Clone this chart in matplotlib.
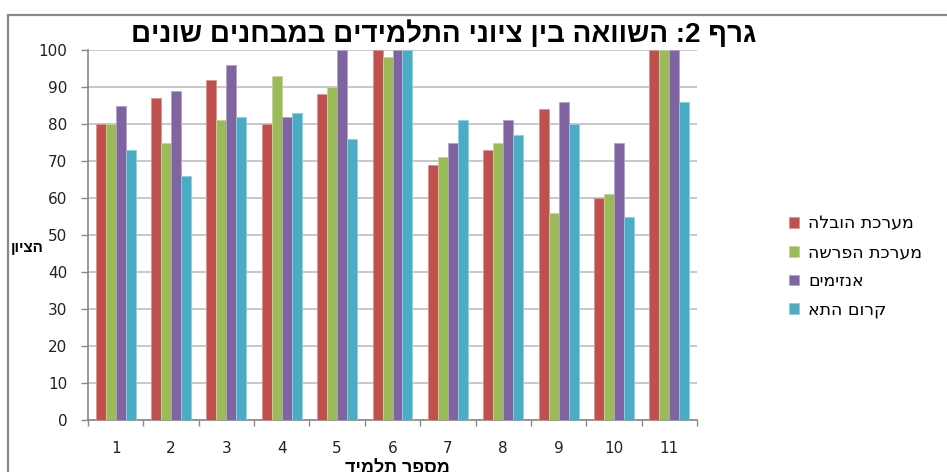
import matplotlib
matplotlib.use("Agg")
import matplotlib.pyplot as plt
import numpy as np
from matplotlib.patches import Rectangle

def vis(s):
    # Hebrew visual order for left-to-right rendering
    return s[::-1]

students = [1, 2, 3, 4, 5, 6, 7, 8, 9, 10, 11]
hovala = [80, 87, 92, 80, 88, 100, 69, 73, 84, 60, 100]
hafrasha = [80, 75, 81, 93, 90, 98, 71, 75, 56, 61, 100]
enzymim = [85, 89, 96, 82, 100, 100, 75, 81, 86, 75, 100]
krum = [73, 66, 82, 83, 76, 100, 81, 77, 80, 55, 86]

series_names = ["מערכת הובלה", "מערכת הפרשה", "אנזימים", "קרום התא"]
colors = ["#C0504D", "#9BBB59", "#8064A2", "#4BACC6"]
edge_colors = ["#D99694", "#C3D69B", "#B3A2C7", "#93CDDD"]

title = "גרף 2: השוואה בין ציוני התלמידים במבחנים שונים"
ylabel = "הציון"
xlabel = "מספר תלמיד"

heb = ['Liberation Sans', 'DejaVu Sans']
plt.rcParams['font.family'] = ['DejaVu Sans']

fig = plt.figure(figsize=(9.47, 4.72), dpi=100)
W, H = 947, 472
ax = fig.add_axes([88 / W, 1 - 420 / H, 609 / W, 370 / H])

x = np.arange(len(students))
bw = 0.18
all_series = [hovala, hafrasha, enzymim, krum]
for i, (vals, c, ec, name) in enumerate(zip(all_series, colors, edge_colors, series_names)):
    ax.bar(x + (i - 1.5) * bw, vals, width=bw, color=c, edgecolor=ec,
           linewidth=0.6, label=vis(name), zorder=3)

ax.set_xlim(-0.5, len(students) - 0.5)
ax.set_ylim(0, 100)
ax.set_yticks(np.arange(0, 101, 10))
ax.yaxis.grid(True, color="#BFBFBF", linewidth=1.2, zorder=0)
ax.set_axisbelow(True)

ax.set_xticks(x)
ax.set_xticklabels([str(s) for s in students])
ax.set_xticks(np.arange(-0.5, len(students), 1.0), minor=True)
ax.tick_params(axis='x', which='major', length=0, pad=15, labelsize=11, colors='#222222')
ax.tick_params(axis='x', which='minor', length=4.3, color='#888888', width=1)
ax.tick_params(axis='y', length=5, color='#888888', width=1, pad=10, labelsize=11, labelcolor='#222222')

for s in ['top', 'right']:
    ax.spines[s].set_visible(False)
for s in ['left', 'bottom']:
    ax.spines[s].set_color('#888888')
    ax.spines[s].set_linewidth(1.2)

fig.text(444 / W, 1 - 34 / H, vis(title), ha='center', va='center',
         fontsize=20, fontweight='bold', family=heb)
fig.text(27 / W, 1 - 248 / H, vis(ylabel), ha='center', va='center',
         fontsize=11, fontweight='bold', family=heb)
fig.text(397 / W, 1 - 469 / H, vis(xlabel), ha='center', va='center',
         fontsize=13, fontweight='bold', family=heb)

leg = fig.legend(loc='upper left', bbox_to_anchor=(773 / W, 1 - 199 / H),
                 frameon=False, prop={'family': ['DejaVu Sans'], 'size': 12.5},
                 handlelength=0.58, handleheight=0.58, handletextpad=0.55,
                 labelspacing=0.62)

rect = Rectangle((8 / W, -0.05), 1.0, 1 - 15 / H + 0.05, transform=fig.transFigure,
                 fill=False, edgecolor='#888888', linewidth=1.6, clip_on=False)
fig.patches.append(rect)

fig.savefig("out.png", dpi=100)
